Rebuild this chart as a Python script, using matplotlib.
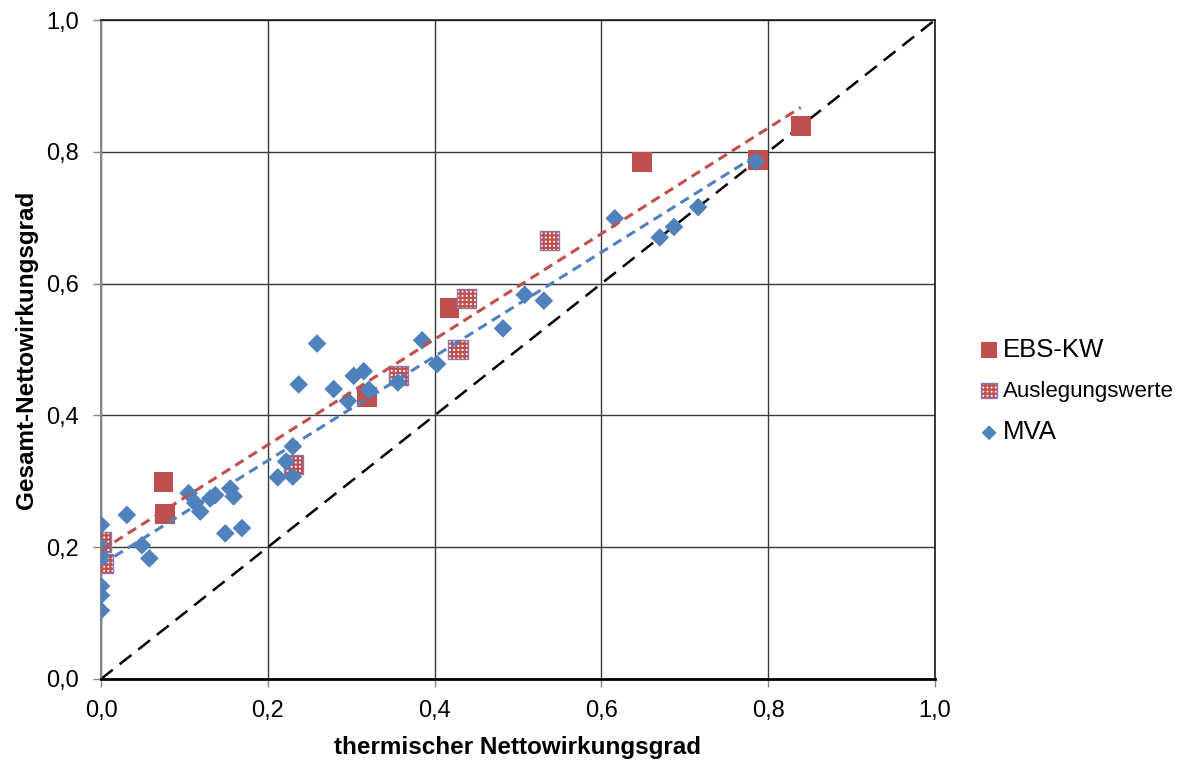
import numpy as np
import matplotlib
matplotlib.use("Agg")
import matplotlib.pyplot as plt
from matplotlib.legend_handler import HandlerTuple

plt.rcParams["font.family"] = ["Liberation Sans", "DejaVu Sans"]
plt.rcParams["hatch.linewidth"] = 1.6

# EBS-Kraftwerke (Betriebswerte)
ebs_x = [0.075, 0.077, 0.319, 0.418, 0.649, 0.788, 0.839]
ebs_y = [0.299, 0.250, 0.428, 0.563, 0.785, 0.788, 0.839]

# EBS-Kraftwerke (Auslegungswerte)
ausl_x = [0.000, 0.003, 0.231, 0.357, 0.428, 0.438, 0.538]
ausl_y = [0.208, 0.175, 0.325, 0.461, 0.500, 0.578, 0.666]

# Muellverbrennungsanlagen
mva_x = [0.000, 0.000, 0.000, 0.000, 0.000, 0.000, 0.031, 0.049, 0.058,
         0.105, 0.113, 0.119, 0.131, 0.137, 0.155, 0.159, 0.149, 0.169,
         0.212, 0.222, 0.230, 0.230, 0.259, 0.237, 0.279, 0.296, 0.303,
         0.315, 0.321, 0.356, 0.385, 0.403, 0.482, 0.508, 0.531, 0.616,
         0.670, 0.687, 0.716, 0.785]
mva_y = [0.234, 0.201, 0.187, 0.141, 0.127, 0.104, 0.249, 0.203, 0.183,
         0.282, 0.267, 0.254, 0.274, 0.279, 0.289, 0.277, 0.221, 0.229,
         0.306, 0.330, 0.353, 0.307, 0.509, 0.447, 0.440, 0.422, 0.460,
         0.467, 0.439, 0.450, 0.514, 0.478, 0.532, 0.583, 0.574, 0.699,
         0.670, 0.686, 0.716, 0.785]

ticks = [0.0, 0.2, 0.4, 0.6, 0.8, 1.0]
tick_labels = ["0,0", "0,2", "0,4", "0,6", "0,8", "1,0"]

RED = "#C0504D"
BLUE = "#4F81BD"
PURPLE = "#8f74b0"

fig = plt.figure(figsize=(11.88, 7.6), dpi=100)
ax = fig.add_axes([101 / 1188, 1 - 679 / 760, 834 / 1188, 659 / 760])

ax.set_xlim(0, 1)
ax.set_ylim(0, 1)
ax.set_xticks(ticks)
ax.set_yticks(ticks)
ax.set_xticklabels(tick_labels, fontsize=17)
ax.set_yticklabels(tick_labels, fontsize=17)
ax.tick_params(direction="out", length=6, width=1, color="#868686")
ax.tick_params(axis="x", pad=9)
ax.tick_params(axis="y", pad=10)
ax.grid(True, color="#3a3a3a", linewidth=1.0)
ax.set_axisbelow(True)

for side in ("top", "right"):
    ax.spines[side].set_color("#1a1a1a")
    ax.spines[side].set_linewidth(1.2)
ax.spines["bottom"].set_color("black")
ax.spines["bottom"].set_linewidth(2.0)
ax.spines["left"].set_color("#868686")
ax.spines["left"].set_linewidth(1.5)

# 1:1 Linie
ax.plot([0, 1], [0, 1], color="black", linewidth=1.8, dashes=(6, 3.5), zorder=2)

ebs = ax.scatter(ebs_x, ebs_y, marker="s", s=200, color=RED,
                 edgecolor="none", zorder=3)
# gepunktete Fuellung: weisser Grund mit rotem Gitter, darueber lila Rand
ausl_fill = ax.scatter(ausl_x, ausl_y, marker="s", s=190, facecolor="white",
                       edgecolor=RED, linewidth=0, hatch="++++", zorder=3)
ausl_edge = ax.scatter(ausl_x, ausl_y, marker="s", s=190, facecolor="none",
                       edgecolor=PURPLE, linewidth=1.0, zorder=3)
mva = ax.scatter(mva_x, mva_y, marker="D", s=90, color=BLUE,
                 edgecolor="none", zorder=4)

# lineare Trendlinien
red_x = np.array(ebs_x + ausl_x)
red_y = np.array(ebs_y + ausl_y)
k, d = np.polyfit(red_x, red_y, 1)
xr = np.array([red_x.min(), red_x.max()])
ax.plot(xr, k * xr + d, color=RED, linewidth=2.2, dashes=(3.2, 2.0), zorder=5)

mx = np.array(mva_x)
k, d = np.polyfit(mx, np.array(mva_y), 1)
xb = np.array([mx.min(), mx.max()])
ax.plot(xb, k * xb + d, color=BLUE, linewidth=2.2, dashes=(3.2, 2.0), zorder=5)

ax.set_xlabel("thermischer Nettowirkungsgrad", fontsize=17.5,
              fontweight="bold", labelpad=10)
ax.set_ylabel("Gesamt-Nettowirkungsgrad", fontsize=17.5,
              fontweight="bold", labelpad=6)

leg = ax.legend([ebs, (ausl_fill, ausl_edge), mva],
                ["EBS-KW", "Auslegungswerte", "MVA"],
                handler_map={tuple: HandlerTuple(ndivide=1, pad=0)},
                loc="center left", bbox_to_anchor=(966 / 1188, 1 - 391 / 760),
                bbox_transform=fig.transFigure, frameon=False,
                fontsize=18.5, markerscale=0.8, handlelength=0.8,
                handletextpad=0.15, labelspacing=0.7,
                borderpad=0, scatterpoints=1)
sizes = [18.5, 16, 18.5]
for txt, fs in zip(leg.get_texts(), sizes):
    txt.set_fontsize(fs)

fig.savefig("out.png", dpi=100)
